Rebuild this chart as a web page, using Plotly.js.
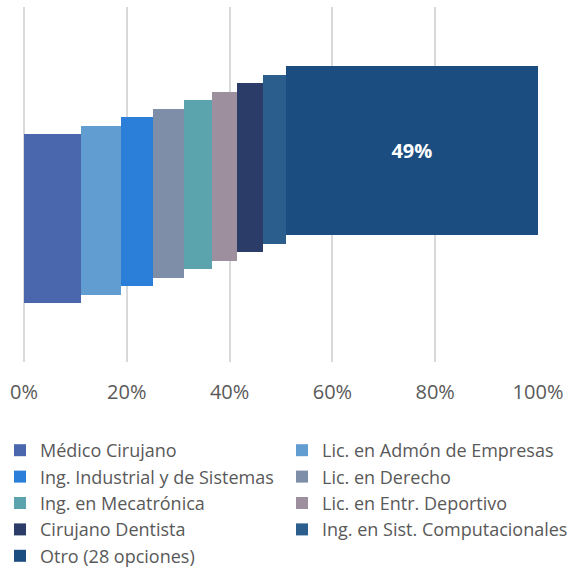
<!DOCTYPE html>
<html><head><meta charset="utf-8">
<script src="https://cdn.plot.ly/plotly-3.0.1.min.js"></script>
<style>html,body{margin:0;padding:0;background:#fff}#chart{width:578px;height:572px}</style>
</head><body><div id="chart"></div>
<script>
const categories = ['Médico Cirujano', 'Lic. en Admón de Empresas', 'Ing. Industrial y de Sistemas', 'Lic. en Derecho', 'Ing. en Mecatrónica', 'Lic. en Entr. Deportivo', 'Cirujano Dentista', 'Ing. en Sist. Computacionales', 'Otro (28 opciones)'];
const shares = [11.1, 7.8, 6.2, 6.0, 5.4, 4.9, 5.0, 4.5, 49.1];
const barLabels = ['', '', '', '', '', '', '', '', '49%'];
const colors = ['#4a67ad', '#619dd1', '#2b7fd8', '#7f8ea8', '#5ba3ad', '#9e8f9f', '#2c3c68', '#2b5e8d', '#1b4d80'];

const stepPx = 8.5, barPx = 169, plotTop = 7, plotBottom = 362, firstCenter = 218.5;
const unitsH = (plotBottom - plotTop) / stepPx;
const lowU = -(plotBottom - firstCenter) / stepPx;

let cum = 0;
const traces = categories.map((name, i) => {
  const t = {
    type: 'bar', orientation: 'h', name: name,
    y: [i], x: [shares[i]], base: [cum], width: [barPx / stepPx],
    marker: {color: colors[i], line: {width: 0}},
    text: [barLabels[i]], textposition: 'inside', insidetextanchor: 'middle',
    textangle: 0, textfont: {family: 'Open Sans', size: 20, color: '#ffffff', weight: 'bold'},
    legend: i % 2 === 0 ? 'legend' : 'legend2',
    legendgroup: 'g' + i,
    hoverinfo: 'skip'
  };
  cum += shares[i];
  return t;
});

const legendBase = {
  orientation: 'v', xref: 'container', yref: 'container', xanchor: 'left', yanchor: 'top',
  traceorder: 'normal', tracegroupgap: 1, itemclick: false, itemdoubleclick: false,
  font: {size: 18, color: '#595959'}, bgcolor: 'rgba(0,0,0,0)'
};

const layout = {
  width: 578, height: 572,
  margin: {l: 24, r: 40, t: plotTop, b: 572 - plotBottom, autoexpand: false},
  paper_bgcolor: '#ffffff', plot_bgcolor: '#ffffff',
  font: {family: 'Open Sans', color: '#595959'},
  barmode: 'overlay', bargap: 0,
  showlegend: true,
  xaxis: {range: [0, 100], dtick: 20, tick0: 0, ticksuffix: '%', showgrid: true, gridcolor: '#d9d9d9', gridwidth: 2,
          zeroline: true, zerolinecolor: '#d9d9d9', zerolinewidth: 2, showline: false, ticks: '', ticklabelstandoff: 16,
          tickfont: {size: 20, color: '#595959'}, fixedrange: true},
  yaxis: {range: [lowU, lowU + unitsH], visible: false, fixedrange: true},
  legend: Object.assign({}, legendBase, {x: 0, y: 1 - 432 / 572}),
  legend2: Object.assign({}, legendBase, {x: 282 / 578, y: 1 - 432 / 572}),
  hovermode: false
};

Plotly.newPlot('chart', traces, layout, {displayModeBar: false, staticPlot: true});
</script>
</body></html>
